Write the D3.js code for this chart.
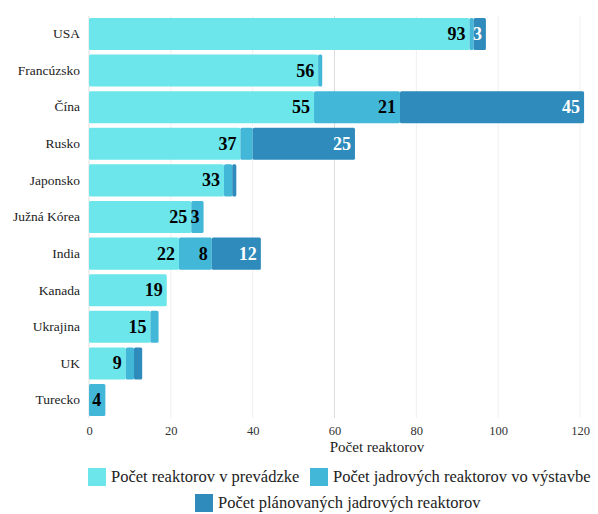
<!DOCTYPE html>
<html><head><meta charset="utf-8">
<script src="https://cdn.jsdelivr.net/npm/d3@7"></script>
<style>body{margin:0;background:#fff}svg{display:block}svg text{font-family:"Liberation Serif","Times New Roman",serif}</style>
</head><body>
<script>
const countries = ["USA","Francúzsko","Čína","Rusko","Japonsko","Južná Kórea","India","Kanada","Ukrajina","UK","Turecko"];
const operating = [93,56,55,37,33,25,22,19,15,9,0];
const construction = [1,1,21,3,2,3,8,0,2,2,4];
const planned = [3,0,45,25,1,0,12,0,0,2,0];
const hiddenConstructionLabels = ["Rusko"];
const xTicks = [0,20,40,60,80,100,120];
const seriesNames = ["Počet reaktorov v prevádzke","Počet jadrových reaktorov vo výstavbe","Počet plánovaných jadrových reaktorov"];
const colors = ["#6ce6ea","#42b7d7","#2e8bbb"];
const labelColors = ["#000","#000","#fff"];

const W=598,H=514;
const svg=d3.select("body").append("svg").attr("width",W).attr("height",H);
const x=d3.scaleLinear().domain([0,120]).range([89,580]);
const y=d3.scaleBand().domain(countries).range([15.7,418.3]).paddingInner(0.125).paddingOuter(0.06);

svg.append("g").selectAll("line").data(xTicks).join("line")
 .attr("x1",d=>x(d)).attr("x2",d=>x(d)).attr("y1",16).attr("y2",418)
 .attr("stroke",d=>d===60?"#dcdcdc":(d===0?"#e0e0e0":"#f0f0f0")).attr("stroke-width",1);

const xa=svg.append("g").attr("transform","translate(0,419)")
 .call(d3.axisBottom(x).tickValues(xTicks).tickSize(0).tickPadding(7));
xa.attr("font-family",null);
xa.select(".domain").remove();
xa.selectAll("text").attr("font-size",12.5).attr("fill","#333");
svg.append("text").attr("x",377).attr("y",452).attr("text-anchor","middle")
 .attr("font-size",15).attr("fill","#222").text("Počet reaktorov");

const ya=svg.append("g").attr("transform","translate(89,0)")
 .call(d3.axisLeft(y).tickSize(0).tickPadding(9));
ya.attr("font-family",null);
ya.select(".domain").remove();
ya.selectAll("text").attr("font-size",13.5).attr("fill","#222");

const data=countries.map((c,i)=>({c,vals:[operating[i],construction[i],planned[i]]}));
const stack=d3.stack().keys([0,1,2]).value((d,k)=>d.vals[k]);
const series=stack(data);

series.forEach((s,k)=>{
  const g=svg.append("g");
  g.selectAll("rect").data(s.filter(d=>d[1]-d[0]>0)).join("rect")
   .attr("x",d=>x(d[0])).attr("width",d=>x(d[1])-x(d[0]))
   .attr("y",d=>y(d.data.c)).attr("height",y.bandwidth())
   .attr("fill",colors[k]).attr("rx",1.5);
  g.selectAll("text").data(s.filter(d=>d[1]-d[0]>=3 && !(k===1 && hiddenConstructionLabels.includes(d.data.c)))).join("text")
   .attr("x",d=>x(d[1])-4).attr("y",d=>y(d.data.c)+y.bandwidth()/2+6)
   .attr("text-anchor","end").attr("font-weight","bold")
   .attr("font-size",18).attr("fill",labelColors[k]).text(d=>d[1]-d[0]);
});

const leg=[{i:0,x:88,y:468},{i:1,x:310,y:468},{i:2,x:195,y:494}];
leg.forEach(l=>{
  svg.append("rect").attr("x",l.x).attr("y",l.y).attr("width",18).attr("height",18).attr("fill",colors[l.i]);
  svg.append("text").attr("x",l.x+23).attr("y",l.y+14).attr("font-size",16.5)
   .attr("fill","#222").text(seriesNames[l.i]);
});
</script>
</body></html>
